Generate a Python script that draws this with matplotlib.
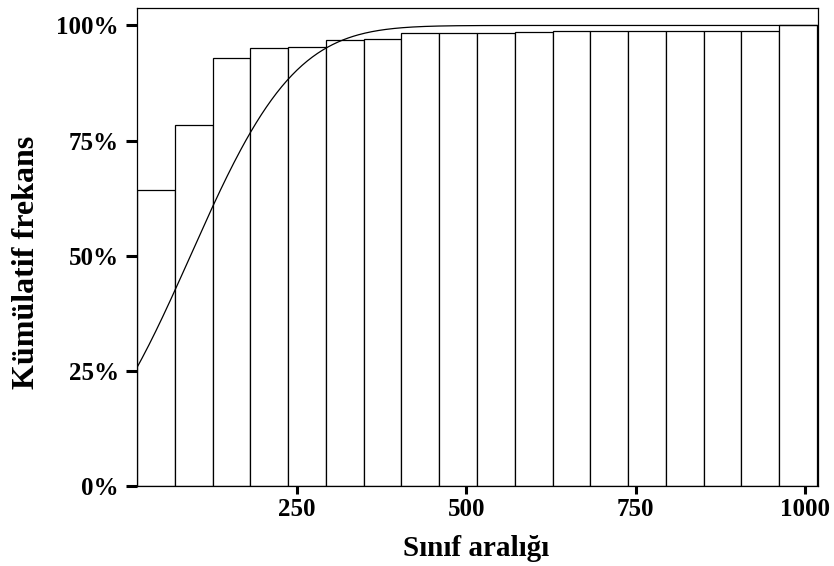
#!/usr/bin/env python3
"""Cumulative frequency histogram (Kümülatif frekans) with fitted normal curve."""

import math

import matplotlib
matplotlib.use("Agg")
import matplotlib.pyplot as plt
from matplotlib.ticker import FuncFormatter

# Class intervals (18 equal-width classes)
class_min = 13.6
class_max = 1017.6
n_classes = 18

# Cumulative percentage per class
cum_percent = [64.3, 78.3, 93.0, 95.1, 95.3, 96.9, 97.0, 98.3, 98.3,
               98.3, 98.5, 98.9, 98.9, 98.9, 98.9, 98.9, 98.9, 100.0]

# Fitted normal curve parameters
fit_mean = 92.6
fit_sd = 121.0

x_ticks = [250, 500, 750, 1000]
y_ticks = [0, 25, 50, 75, 100]

plt.rcParams["font.family"] = ["Liberation Serif", "DejaVu Serif"]

fig = plt.figure(figsize=(8.34, 5.66), dpi=100)
ax = fig.add_axes([0.1643, 0.1419, 0.8165, 0.8440])

width = (class_max - class_min) / n_classes
lefts = [class_min + i * width for i in range(n_classes)]
ax.bar(lefts, cum_percent, width=width, align="edge",
       color="white", edgecolor="black", linewidth=0.9)

# normal CDF curve
xs = [class_min + (1019 - class_min) * i / 400 for i in range(401)]
ys = [100 * 0.5 * (1 + math.erf((x - fit_mean) / (fit_sd * math.sqrt(2)))) for x in xs]
ax.plot(xs, ys, color="black", linewidth=0.9)

ax.set_xlim(class_min, 1019)
ax.set_ylim(0, 103.8)
ax.set_xticks(x_ticks)
ax.set_yticks(y_ticks)
ax.yaxis.set_major_formatter(FuncFormatter(lambda v, p: f"{v:.0f}%"))

for s in ax.spines.values():
    s.set_linewidth(0.9)

ax.tick_params(axis="y", direction="out", length=8, width=2.2, pad=5,
               labelsize=18)
ax.tick_params(axis="x", direction="out", length=6, width=2.2, pad=3,
               labelsize=18)
for lbl in ax.get_xticklabels() + ax.get_yticklabels():
    lbl.set_fontweight("bold")

# axis titles placed in figure coordinates
fig.text(476 / 834, 1 - 548 / 566, "Sınıf aralığı", fontsize=21,
         fontweight="bold", ha="center", va="center")
fig.text(27 / 834, 1 - 262 / 566, "Kümülatif frekans", fontsize=23,
         fontweight="bold", ha="center", va="center", rotation=90)

fig.savefig("out.png", dpi=100)
